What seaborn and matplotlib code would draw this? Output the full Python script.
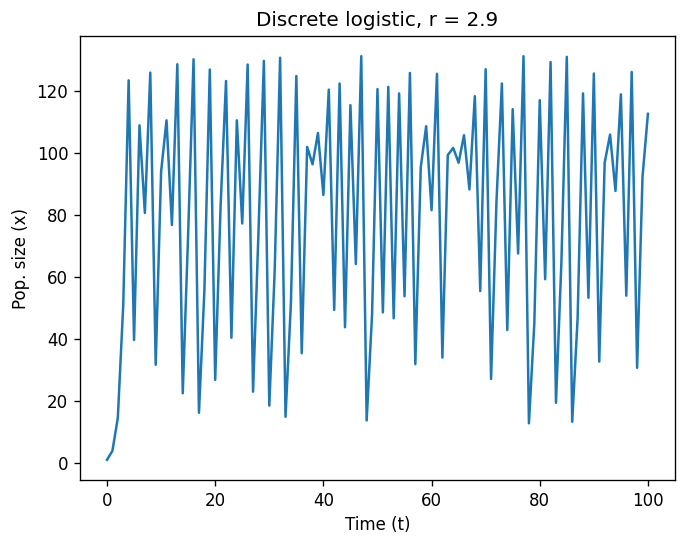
import numpy as np
import pandas as pd
import matplotlib
matplotlib.use('Agg')
import matplotlib.pyplot as plt
import seaborn as sns

# population size per time step
time_steps = list(range(0, 101))
pop_size = [
    1.0, 3.9, 14.6, 51.0, 123.5, 39.7, 109.0, 80.7, 126.0, 31.7,
    94.0, 110.6, 76.8, 128.7, 22.5, 74.0, 130.3, 16.2, 55.6, 127.0,
    26.8, 83.0, 123.3, 40.4, 110.6, 77.3, 128.6, 23.0, 74.4, 129.8,
    18.5, 62.2, 130.8, 14.9, 51.7, 124.9, 35.4, 102.0, 96.4, 106.5,
    86.5, 120.5, 49.4, 122.5, 43.8, 115.5, 64.2, 131.3, 13.7, 48.0,
    120.7, 48.6, 121.4, 46.7, 119.3, 53.8, 125.9, 31.9, 95.4, 108.7,
    81.6, 125.6, 34.0, 99.4, 101.7, 96.9, 105.8, 88.3, 118.4, 55.5,
    127.1, 27.1, 84.4, 122.5, 42.9, 114.2, 67.6, 131.3, 12.8, 45.2,
    117.1, 59.3, 129.4, 19.4, 64.7, 131.1, 13.3, 46.7, 119.3, 53.3,
    125.7, 32.7, 96.9, 106.0, 87.8, 119.0, 54.0, 126.2, 30.7, 92.4,
    112.7,
]
r_value = 2.9

df = pd.DataFrame({'t': time_steps, 'x': pop_size})

dpi = 120
fig, ax = plt.subplots(figsize=(687 / dpi, 544 / dpi), dpi=dpi)
fig.subplots_adjust(left=0.1164, right=0.9825, top=0.9338, bottom=0.1176)

sns.lineplot(data=df, x='t', y='x', ax=ax, color='tab:blue', linewidth=1.5)
ax.set_title(f'Discrete logistic, r = {r_value}')
ax.set_xlabel('Time (t)')
ax.set_ylabel('Pop. size (x)')

fig.savefig('out.png', dpi=dpi)
